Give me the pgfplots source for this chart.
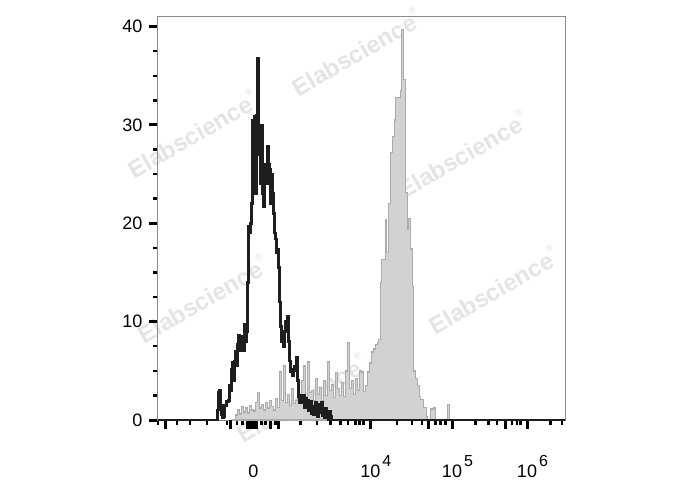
\documentclass[border=0pt]{standalone}
\usepackage{pgfplots}
\usepackage{pgfplotstable}
\pgfplotsset{compat=1.18}
\usepackage{fontspec}
\setmainfont{Liberation Sans}

\definecolor{fillgray}{HTML}{D2D2D2}
\definecolor{edgegray}{HTML}{ABABAB}
\definecolor{wmgray}{HTML}{E4E4E4}
\definecolor{framegray}{HTML}{8C8C8C}
\definecolor{histblack}{HTML}{1E1E1E}

% x is in display channels of the biexponential axis, y is count
\pgfplotstableread{
x y
232 0
235 0.5
237 1.0
239 0.6
241 1.4
243 0.8
245 1.2
247 0.7
249 1.5
251 1.0
253 0.9
255 1.8
257 2.8
259 1.2
261 1.6
263 1.0
265 1.8
267 1.2
269 2.0
271 1.4
273 1.0
275 2.2
277 1.3
279 4.9
281 2.0
283 5.5
285 1.8
287 2.6
289 1.5
291 3.2
293 1.7
295 2.0
297 3.5
299 2.2
301 4.0
303 5.5
305 2.4
307 5.9
309 2.8
311 3.0
313 2.0
315 4.2
317 2.6
319 3.3
321 2.0
323 4.0
325 2.5
327 5.9
329 3.0
331 3.6
333 2.3
335 4.8
337 3.2
339 2.5
341 3.8
343 2.4
345 5.0
347 7.9
349 3.2
351 4.0
353 2.6
355 4.2
357 3.0
359 5.0
361 4.9
363 2.9
365 3.5
367 4.9
369 5.8
371 6.9
373 7.2
375 7.7
377 7.9
378 8.2
380 14.0
381 16.3
383 16.3
385 20.4
386 17.0
388 22.0
390 27.2
392 28.8
394 30.5
395 32.8
398 32.8
400 33.5
401 39.7
403 34.6
405 23.1
407 19.4
408 20.5
410 17.4
412 13.6
413 5.0
415 4.2
417 3.5
419 2.4
420 2.1
423 1.3
426 0.3
427 0
430 1.1
433 1.2
435 0
446 0
447 1.6
449 0
450 0
}\grayhist

\pgfplotstableread{
x y
157.7 0
216 0
217 1.0
218 2.8
219 3.0
220 1.5
221 0.5
222 0.2
223 0.3
224 1.5
226 1.9
228 2.0
229 3.5
230 3.0
231 5.2
232 5.9
233 4.0
234 6.0
235 7.0
236 5.5
237 7.7
238 8.6
239 7.0
240 8.0
241 7.5
242 8.5
243 7.0
244 9.7
245 8.0
246 9.0
247 14.0
248 19.7
249 19.0
250 20.0
251 22.0
252 30.5
253 28.0
254 30.9
255 23.0
256 31.0
257 36.8
258 30.0
259 27.0
260 24.0
261 30.0
262 23.0
263 21.7
264 25.0
265 26.0
266 24.0
267 27.8
268 26.0
269 25.5
270 22.0
271 25.0
272 23.0
273 21.0
274 19.0
275 18.4
276 17.0
277 17.4
278 15.5
279 12.0
280 9.5
281 8.0
282 8.2
283 7.5
284 9.0
285 10.0
286 9.5
287 10.5
288 8.0
289 6.0
290 4.9
291 5.0
292 4.5
293 5.2
294 5.5
295 5.0
296 6.4
297 4.0
298 2.4
299 1.8
300 2.5
302 1.8
303 2.5
304 1.2
305 2.2
306 1.4
307 2.0
308 0.9
309 1.5
310 1.9
311 0.6
312 1.0
313 0.5
314 1.4
315 1.8
316 0.6
317 0.3
318 1.6
319 0.7
320 1.2
321 1.8
322 0.4
324 0.2
325 1.2
326 0.3
328 0
329 0.9
330 0.4
331 0
565 0
}\blackhist

\newcommand{\wm}[2]{%
  \node[wmgray, font=\fontsize{24}{24}\selectfont\bfseries, rotate=30, anchor=west,
        inner sep=0pt] at ({#1-158},{420-#2})
        {Elabscience\raisebox{1.2ex}{\fontsize{9}{9}\selectfont ®}};}
\newcommand{\dec}[1]{\hphantom{\kern2pt\fontsize{16}{16}\selectfont #1}10\kern2pt\raisebox{11pt}{\fontsize{16}{16}\selectfont #1}}

\begin{document}
\begin{tikzpicture}[x=1pt,y=1pt]
\useasboundingbox (-158,-70) rectangle (530,420);
\wm{293}{88}
\wm{129}{170}
\wm{399}{190}
\wm{139}{335}
\wm{430}{326}
\wm{238}{434}
\begin{axis}[
    at={(0,0)}, anchor=south west,
    scale only axis,
    width=407.3pt, height=403.3pt,
    xmin=157.7, xmax=565,
    ymin=0, ymax=41,
    axis line style={framegray, line width=1pt},
    tick align=outside,
    xtick pos=bottom, ytick pos=left,
    ytick={0,10,20,30,40},
    yticklabels={0,10,20,30,40},
    minor ytick={2.5,5,7.5,12.5,15,17.5,22.5,25,27.5,32.5,35,37.5},
    xtick={253,370,451.7,526.7},
    xticklabels={0,\dec{4},\dec{5},\dec{6}},
    extra x ticks={165.7,230,246.7,250,256,270,278.3,428.3,505},
    extra x tick labels={},
    minor xtick={158,176.7,190,206.7,226.7,236.7,242.3,261,265,275,300,316.7,330,340,347.7,355,359,363.3,396.7,411.7,421.7,435,440,445,475,488.3,496.7,511.7,516.7,520,550,561.7},
    major tick length=9pt,
    minor tick length=4.5pt,
    every tick/.style={black, line width=3pt},
    every minor tick/.style={black, line width=2.4pt},
    every extra x tick/.style={black, line width=3pt},
    ticklabel style={font=\fontsize{18}{18}\selectfont},
    xticklabel style={anchor=base, yshift=-48pt},
    yticklabel style={xshift=-3pt},
]
\addplot[const plot, fill=fillgray, draw=edgegray, line width=1.4pt]
    table[x=x, y=y] {\grayhist} \closedcycle;
\addplot[const plot, draw=histblack, line width=2.6pt]
    table[x=x, y=y] {\blackhist};
\end{axis}
\end{tikzpicture}
\end{document}
